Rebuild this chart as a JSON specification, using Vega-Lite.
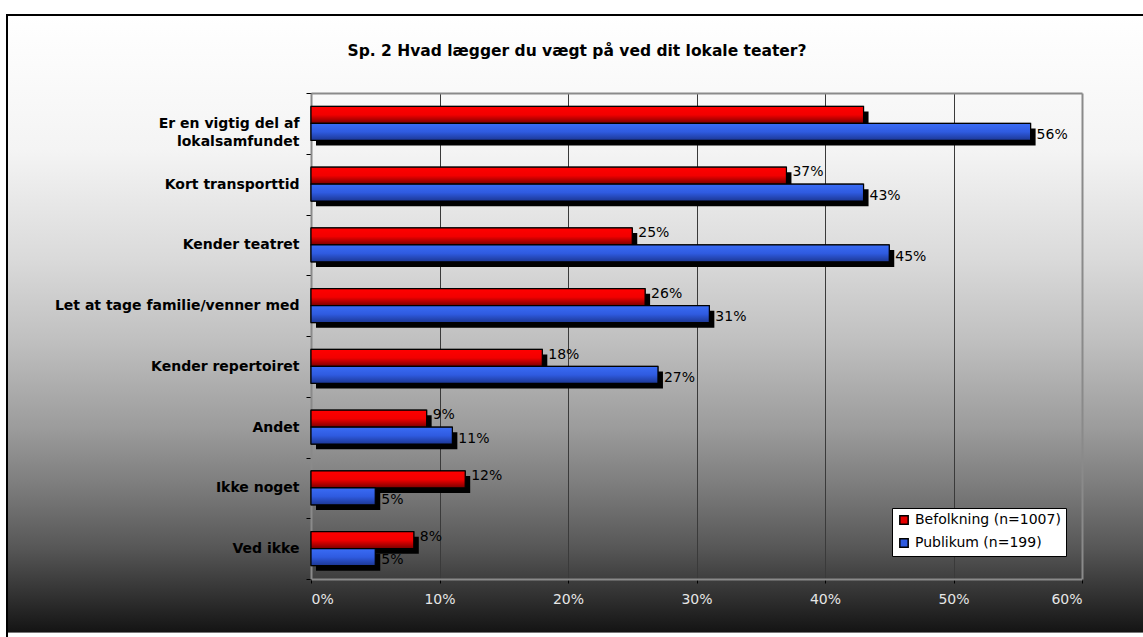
{
  "$schema": "https://vega.github.io/schema/vega-lite/v6.json",
  "width": 1140,
  "height": 642,
  "autosize": {"type": "none"},
  "padding": {"left": 7, "top": 15, "right": 0, "bottom": 0},
  "background": "white",
  "title": {
    "text": "Sp. 2 Hvad lægger du vægt på ved dit lokale teater?",
    "font": "DejaVu Sans",
    "fontSize": 15.5,
    "fontWeight": "bold",
    "color": "#000000",
    "anchor": "middle",
    "frame": "group",
    "offset": -63,
    "baseline": "alphabetic"
  },
  "data": {
    "values": [
      {"kategori": "Er en vigtig del af lokalsamfundet", "serie": "Befolkning (n=1007)", "v": 0.43},
      {"kategori": "Er en vigtig del af lokalsamfundet", "serie": "Publikum (n=199)", "v": 0.56},
      {"kategori": "Kort transporttid", "serie": "Befolkning (n=1007)", "v": 0.37},
      {"kategori": "Kort transporttid", "serie": "Publikum (n=199)", "v": 0.43},
      {"kategori": "Kender teatret", "serie": "Befolkning (n=1007)", "v": 0.25},
      {"kategori": "Kender teatret", "serie": "Publikum (n=199)", "v": 0.45},
      {"kategori": "Let at tage familie/venner med", "serie": "Befolkning (n=1007)", "v": 0.26},
      {"kategori": "Let at tage familie/venner med", "serie": "Publikum (n=199)", "v": 0.31},
      {"kategori": "Kender repertoiret", "serie": "Befolkning (n=1007)", "v": 0.18},
      {"kategori": "Kender repertoiret", "serie": "Publikum (n=199)", "v": 0.27},
      {"kategori": "Andet", "serie": "Befolkning (n=1007)", "v": 0.09},
      {"kategori": "Andet", "serie": "Publikum (n=199)", "v": 0.11},
      {"kategori": "Ikke noget", "serie": "Befolkning (n=1007)", "v": 0.12},
      {"kategori": "Ikke noget", "serie": "Publikum (n=199)", "v": 0.05},
      {"kategori": "Ved ikke", "serie": "Befolkning (n=1007)", "v": 0.08},
      {"kategori": "Ved ikke", "serie": "Publikum (n=199)", "v": 0.05}
    ]
  },
  "encoding": {
    "y": {
      "field": "kategori",
      "type": "nominal",
      "sort": null,
      "title": null,
      "scale": {"range": [78, 564], "paddingInner": 0, "paddingOuter": 0},
      "axis": {
        "offset": -304,
        "domainColor": "#8a8a8a",
        "domainWidth": 2,
        "ticks": true,
        "tickBand": "extent",
        "tickColor": "#000000",
        "tickSize": 5,
        "labelFont": "DejaVu Sans",
        "labelFontWeight": "bold",
        "labelFontSize": 14,
        "labelColor": "#000000",
        "labelPadding": 7,
        "labelLimit": 0,
        "labelLineHeight": 18,
        "grid": false,
        "labelExpr": "datum.label == 'Er en vigtig del af lokalsamfundet' ? ['Er en vigtig del af', 'lokalsamfundet'] : datum.label"
      }
    }
  },
  "layer": [
    {
      "transform": [
        {"filter": "!(datum.kategori == 'Er en vigtig del af lokalsamfundet' && datum.serie == 'Befolkning (n=1007)')"}
      ],
      "mark": {"type": "text", "align": "left", "baseline": "middle", "dx": 6, "font": "DejaVu Sans", "fontSize": 14, "color": "#000000"},
      "encoding": {
        "x": {
          "field": "v",
          "type": "quantitative",
          "scale": {"domain": [0, 0.6], "range": [304, 1075]},
          "axis": {
            "orient": "top",
            "offset": -78,
            "domainColor": "#8a8a8a",
            "domainWidth": 2,
            "ticks": false,
            "labels": false,
            "grid": false,
            "title": null
          }
        },
        "yOffset": {"field": "serie", "type": "nominal", "sort": ["Befolkning (n=1007)", "Publikum (n=199)"], "scale": {"domain": ["Befolkning (n=1007)", "Publikum (n=199)"], "paddingOuter": 0.79, "paddingInner": 0}},
        "text": {"field": "v", "type": "quantitative", "format": ".0%"}
      }
    },
    {
      "mark": {"type": "bar", "color": "#000000", "xOffset": 5, "x2Offset": 5},
      "encoding": {
        "x": {
          "field": "v",
          "type": "quantitative",
          "scale": {"domain": [0, 0.6], "range": [304, 1075]},
          "axis": {
            "orient": "bottom",
            "offset": -78,
            "values": [0, 0.1, 0.2, 0.3, 0.4, 0.5, 0.6],
            "format": ".0%",
            "labelFont": "DejaVu Sans",
            "labelFontSize": 14,
            "labelColor": "#e6e6e6",
            "labelPadding": 9,
            "tickSize": 4,
            "tickColor": "#000000",
            "domainColor": "#8a8a8a",
            "domainWidth": 2,
            "grid": true,
            "gridColor": {"condition": {"test": "datum.value >= 0.6", "value": "#8a8a8a"}, "value": "#3a3a3a"},
            "gridWidth": {"condition": {"test": "datum.value >= 0.6", "value": 2}, "value": 1},
            "title": null
          }
        },
        "yOffset": {"field": "serie", "type": "nominal", "sort": ["Befolkning (n=1007)", "Publikum (n=199)"], "scale": {"domain": ["Befolkning (n=1007)", "Publikum (n=199)"], "paddingOuter": 0.79, "paddingInner": 0, "align": 0.69}}
      }
    },
    {
      "mark": {"type": "bar", "stroke": "#000000", "strokeWidth": 1},
      "encoding": {
        "x": {"field": "v", "type": "quantitative", "scale": {"domain": [0, 0.6], "range": [304, 1075]}, "axis": null},
        "yOffset": {"field": "serie", "type": "nominal", "sort": ["Befolkning (n=1007)", "Publikum (n=199)"], "scale": {"domain": ["Befolkning (n=1007)", "Publikum (n=199)"], "paddingOuter": 0.79, "paddingInner": 0}},
        "color": {
          "field": "serie",
          "type": "nominal",
          "sort": ["Befolkning (n=1007)", "Publikum (n=199)"],
          "scale": {"range": ["#e60000", "#2f5be0"]},
          "legend": {
            "title": null,
            "orient": "none",
            "legendX": 885,
            "legendY": 493,
            "fillColor": "#ffffff",
            "strokeColor": "#000000",
            "padding": 5,
            "symbolType": "square",
            "symbolSize": 70,
            "symbolStrokeColor": "#000000",
            "symbolStrokeWidth": 1.5,
            "labelFont": "DejaVu Sans",
            "labelFontSize": 14,
            "labelColor": "#000000",
            "labelLimit": 0,
            "labelOffset": 4,
            "rowPadding": 7
          }
        }
      }
    },
    {
      "mark": {"type": "bar", "stroke": "#000000", "strokeWidth": 1.2},
      "encoding": {
        "x": {"field": "v", "type": "quantitative", "scale": {"domain": [0, 0.6], "range": [304, 1075]}, "axis": null},
        "yOffset": {"field": "serie", "type": "nominal", "sort": ["Befolkning (n=1007)", "Publikum (n=199)"], "scale": {"domain": ["Befolkning (n=1007)", "Publikum (n=199)"], "paddingOuter": 0.79, "paddingInner": 0}},
        "fill": {
          "condition": {
            "test": "datum.serie == 'Befolkning (n=1007)'",
            "value": {"gradient": "linear", "x1": 0, "y1": 0, "x2": 0, "y2": 1, "stops": [
              {"offset": 0, "color": "#ff0000"},
              {"offset": 0.5, "color": "#f20000"},
              {"offset": 1, "color": "#7a0000"}
            ]}
          },
          "value": {"gradient": "linear", "x1": 0, "y1": 0, "x2": 0, "y2": 1, "stops": [
            {"offset": 0, "color": "#3a6cf5"},
            {"offset": 0.5, "color": "#2f5be0"},
            {"offset": 1, "color": "#1c3794"}
          ]}
        }
      }
    }
  ],
  "resolve": {"scale": {"yOffset": "independent"}, "axis": {"x": "independent"}},
  "config": {
    "view": {
      "stroke": "#000000",
      "strokeWidth": 2,
      "fill": {"gradient": "linear", "x1": 0, "y1": 0, "x2": 0, "y2": 1, "stops": [
        {"offset": 0, "color": "#ffffff"},
        {"offset": 0.21, "color": "#f4f4f4"},
        {"offset": 0.38, "color": "#dadada"},
        {"offset": 0.506, "color": "#c0c0c0"},
        {"offset": 0.642, "color": "#9c9c9c"},
        {"offset": 0.74, "color": "#7a7a7a"},
        {"offset": 0.83, "color": "#575757"},
        {"offset": 0.911, "color": "#2e2e2e"},
        {"offset": 0.961, "color": "#141414"},
        {"offset": 0.963, "color": "#ffffff"},
        {"offset": 1, "color": "#ffffff"}
      ]}
    }
  }
}
